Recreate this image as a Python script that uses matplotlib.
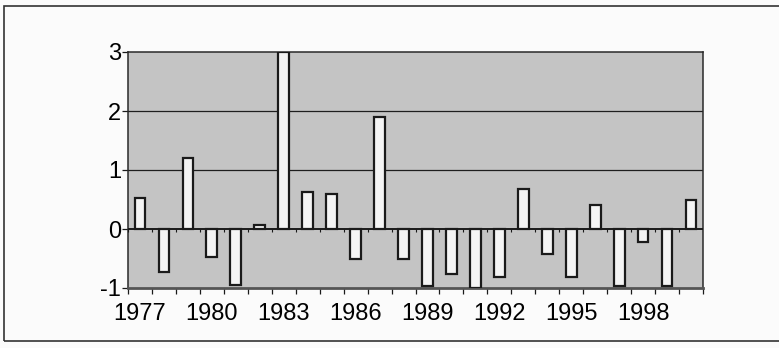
import matplotlib
matplotlib.use("Agg")
import matplotlib.pyplot as plt
from matplotlib.patches import Rectangle
import numpy as np

plt.rcParams['font.family'] = ['Liberation Sans', 'DejaVu Sans']

years = list(range(1977, 2001))
values = [0.53, -0.73, 1.2, -0.48, -0.95, 0.06, 3.0, 0.62, 0.6, -0.5,
          1.9, -0.5, -0.97, -0.77, -1.0, -0.82, 0.68, -0.43, -0.82, 0.4,
          -0.97, -0.22, -0.97, 0.5]
label_years = [1977, 1980, 1983, 1986, 1989, 1992, 1995, 1998]
y_ticks = [-1, 0, 1, 2, 3]

fig = plt.figure(figsize=(7.79, 3.48), dpi=100)
fig.patch.set_facecolor('#fbfbfb')

# outer frame around the chart (runs off the right edge)
frame = Rectangle((4 / 779, 1 - 341 / 348), 1.05, (341 - 6) / 348,
                  transform=fig.transFigure, fill=False, edgecolor='#333333',
                  linewidth=1.2, clip_on=False)
fig.add_artist(frame)

ax = fig.add_axes([128 / 779, 1 - 288 / 348, (703 - 128) / 779, (288 - 52) / 348])
ax.set_facecolor('#c4c4c4')

x = np.arange(len(years))
ax.bar(x, values, width=0.45, color='#f4f4f4', edgecolor='#1a1a1a',
       linewidth=1.6, zorder=3)

ax.set_xlim(-0.5, len(years) - 0.5)
ax.set_ylim(-1, 3)

for g in [1, 2]:
    ax.axhline(g, color='#1e1e1e', linewidth=0.9, zorder=1)
ax.axhline(0, color='#1a1a1a', linewidth=1.4, zorder=4)

# category boundary ticks on the zero line
bounds = np.arange(len(years) + 1) - 0.5
ax.vlines(bounds, -0.05, 0, color='#1a1a1a', linewidth=0.8, zorder=4)

ax.set_yticks(y_ticks)
ax.set_yticklabels([str(v) for v in y_ticks], fontsize=17)
ax.set_xticks(bounds, minor=True)
ax.set_xticks([years.index(y) for y in label_years])
ax.set_xticklabels([str(y) for y in label_years], fontsize=17)
ax.tick_params(axis='x', which='major', length=0, pad=11)
ax.tick_params(axis='x', which='minor', length=4, width=0.9, color='#1a1a1a')
ax.tick_params(axis='y', length=4, width=0.9, pad=1, color='#1a1a1a')

for side in ['left', 'right', 'top', 'bottom']:
    ax.spines[side].set_color('#2a2a2a')
    ax.spines[side].set_linewidth(1.1)
ax.spines['bottom'].set_color('#555555')
ax.spines['bottom'].set_linewidth(2.0)

fig.savefig('out.png', dpi=100, facecolor=fig.get_facecolor())
